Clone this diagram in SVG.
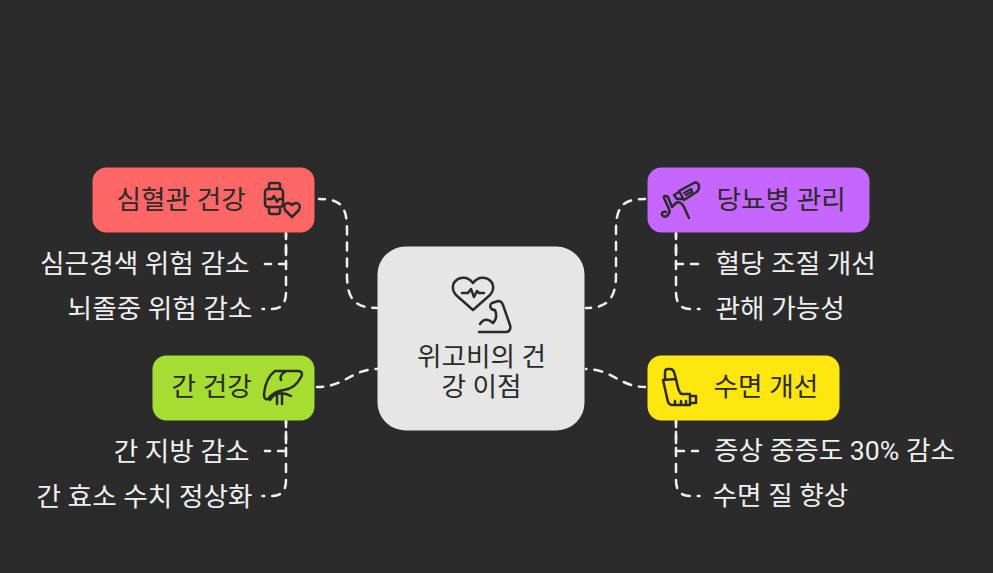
<svg xmlns="http://www.w3.org/2000/svg" width="993" height="573" viewBox="0 0 993 573">
<style>
text{font-family:Roboto,"Noto Sans CJK KR",sans-serif;font-size:26.67px}
.d{fill:#2b2b2b}
.l{fill:#f0f0f0}
.s{fill:none;stroke:#f0f0f0;stroke-width:2.5;stroke-dasharray:8 8;stroke-dashoffset:2;stroke-linecap:round}
.c{stroke-dashoffset:4}
.i{fill:none;stroke:#2b2b2b;stroke-width:2.5;stroke-linecap:round;stroke-linejoin:round}
.e{text-anchor:end}
</style>
<rect width="993" height="573" fill="#2b2b2b"/>
<g id="connectors">
<path class="s" d="M319 199C340 199 347 205 347 230V275C347 298 354 308 377 308"/>
<path class="s" d="M317 387C345 387 352 369 377 369"/>
<path class="s" d="M645 199C624 199 616 205 616 230V275C616 298 608 308 586 308"/>
<path class="s" d="M645 387C620 387 612 369 586 369"/>
<path class="s" d="M286 233V264H265"/>
<path class="s c" d="M286 233V292Q286 309 272 309H262.500"/>
<path class="s" d="M286 421V451H265"/>
<path class="s c" d="M286 420V480Q286 496 272 496H262.500"/>
<path class="s" d="M676 233V264H698"/>
<path class="s c" d="M676 233V292Q676 309 690 309H699.500"/>
<path class="s" d="M676 421V451H698"/>
<path class="s c" d="M676 420V480Q676 496 690 496H699.500"/>
</g>
<g id="center">
<rect x="377.500" y="246.500" width="207" height="184" rx="28" fill="#e6e6e6"/>
<path class="i" d="M473 310L456 295C450 288 453 280 461 278C466 277 470 279 473 283C476 279 480 277 485 278C493 280 496 288 490 295ZM462 293H468L471 289L474 297L477 291L479 293H484"/>
<path class="i" d="M479 332H506C510 332 511 328 510 325L503 305C502 302 500 301 498 301L492 303C489 305 490 310 495 310C497 315 497 319 493 323C488 318 483 319 480 324"/>
<text class="d" text-anchor="middle" x="481.500" y="366">위고비의 건</text>
<text class="d" text-anchor="middle" x="481.500" y="396">강 이점</text>
</g>
<g id="cardio">
<rect x="92.500" y="167.500" width="222" height="65" rx="14" fill="#ff6666"/>
<text class="d" x="116.500" y="209">심혈관 건강</text>
<rect class="i" x="265" y="189" width="18" height="18" rx="3"/>
<path class="i" d="M269 189V185Q269 183 271 183H278Q280 183 280 185V189M269 207V211Q269 214 271 214H278Q280 214 280 211V209M268 199H272L274 196L277 202L279 199H281M292 217L285 210C283 206 285 203 288 203C290 203 291 204 292 205C293 204 294 203 296 203C299 203 301 206 299 210Z"/>
<text class="l e" x="249.500" y="273">심근경색 위험 감소</text>
<text class="l e" x="252.500" y="318">뇌졸중 위험 감소</text>
</g>
<g id="liver">
<rect x="152.500" y="355.500" width="162" height="65" rx="14" fill="#a6dd33"/>
<text class="d" x="171.500" y="396">간 건강</text>
<path class="i" d="M275 371H298C302 371 303 374 301 377C297 385 291 389 284 390C276 391 271 395 268 399C265 400 264 398 264 394C265 384 268 376 275 371ZM285 372C281 374 280 377 281 380M270 400C274 393 282 391 291 396M277 393V404M282 393V404"/>
<text class="l e" x="249.500" y="461">간 지방 감소</text>
<text class="l e" x="252.500" y="506">간 효소 수치 정상화</text>
</g>
<g id="diabetes">
<rect x="647.500" y="167.500" width="222" height="65" rx="14" fill="#c566ff"/>
<path class="i" d="M679 191L692 184C696 181 699 183 699 187C699 190 697 192 695 193L684 200ZM679 192L674 195L677 199L684 199M684 193L691 189L692 192L686 195M664 198C663 196 666 195 668 197L672 207L676 203C679 201 682 203 684 207L689 218M664 198L669 209C671 214 666 218 663 216C660 214 663 211 666 212"/>
<text class="d" x="716.500" y="209">당뇨병 관리</text>
<text class="l" x="715.500" y="273">혈당 조절 개선</text>
<text class="l" x="715.500" y="318">관해 가능성</text>
</g>
<g id="sleep">
<rect x="647.500" y="355.500" width="192" height="65" rx="14" fill="#ffe60f"/>
<path class="i" d="M663 380L668 402C669 404 670 405 672 405H690V394H682C680 394 679 391 678 388L676 379ZM665 379V372Q665 369 668 369H670Q673 369 674 372L676 379M690 396H696V403H690M675 405V401M681 405V401M686 405V401"/>
<text class="d" x="713.500" y="396">수면 개선</text>
<text class="l" x="714" y="460">증상 중증도 30% 감소</text>
<text class="l" x="712.500" y="505">수면 질 향상</text>
</g>
</svg>
